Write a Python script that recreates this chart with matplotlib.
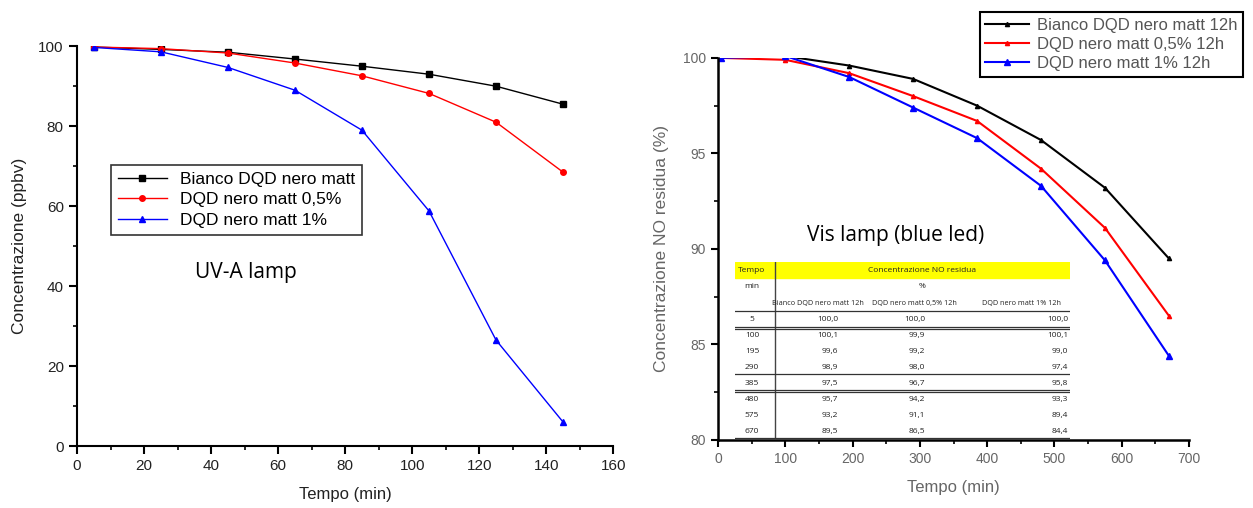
import matplotlib
matplotlib.use("Agg")
import matplotlib.pyplot as plt
import numpy as np

# UV-A lamp data
uv_time = [5, 25, 45, 65, 85, 105, 125, 145]
uv_bianco = [99.8, 99.2, 98.5, 96.8, 95.0, 93.0, 90.0, 85.5]
uv_05 = [99.8, 99.4, 98.3, 95.8, 92.6, 88.2, 81.0, 68.5]
uv_1 = [99.7, 98.6, 94.7, 89.0, 79.0, 58.8, 26.5, 6.0]
uv_labels = ["Bianco DQD nero matt", "DQD nero matt 0,5%", "DQD nero matt 1%"]

# Vis lamp data (from the inset table)
vis_time = [5, 100, 195, 290, 385, 480, 575, 670]
vis_bianco = [100.0, 100.1, 99.6, 98.9, 97.5, 95.7, 93.2, 89.5]
vis_05 = [100.0, 99.9, 99.2, 98.0, 96.7, 94.2, 91.1, 86.5]
vis_1 = [100.0, 100.1, 99.0, 97.4, 95.8, 93.3, 89.4, 84.4]
vis_labels = ["Bianco DQD nero matt 12h", "DQD nero matt 0,5% 12h", "DQD nero matt 1% 12h"]

tab_cols = ["Bianco DQD nero matt 12h", "DQD nero matt 0,5% 12h", "DQD nero matt 1% 12h"]

def fmt(v):
    return f"{v:.1f}".replace(".", ",")

fig = plt.figure(figsize=(12.53, 5.08), dpi=100)
plt.rcParams['font.family'] = ['Liberation Sans', 'DejaVu Sans']

# ---------- left panel ----------
ax1 = fig.add_axes([0.0615, 0.122, 0.428, 0.787])
ax1.plot(uv_time, uv_bianco, color="black", marker="s", ms=4, lw=1, label=uv_labels[0])
ax1.plot(uv_time, uv_05, color="red", marker="o", ms=4, lw=1, label=uv_labels[1])
ax1.plot(uv_time, uv_1, color="blue", marker="^", ms=5, lw=1, label=uv_labels[2])
ax1.set_xlim(0, 160)
ax1.set_ylim(0, 100)
ax1.set_xticks(np.arange(0, 161, 20))
ax1.set_xticks(np.arange(0, 161, 10), minor=True)
ax1.set_yticks(np.arange(0, 101, 20))
ax1.set_yticks(np.arange(0, 101, 10), minor=True)
for s in ["top", "right"]:
    ax1.spines[s].set_visible(False)
ax1.spines["left"].set_linewidth(1.5)
ax1.spines["bottom"].set_linewidth(1.5)
ax1.tick_params(direction="out", width=1.5, length=6, labelsize=11, labelcolor="#222222")
ax1.tick_params(which="minor", direction="out", width=1.2, length=3)
ax1.set_xlabel("Tempo (min)", fontsize=12, color="#222222", labelpad=10)
ax1.set_ylabel("Concentrazione (ppbv)", fontsize=12.5, color="#222222", labelpad=8)
leg1 = ax1.legend(loc="upper left", bbox_to_anchor=(0.047, 0.725), fontsize=12.5,
                  fancybox=False, edgecolor="#333333", framealpha=1,
                  handlelength=2.8, labelspacing=0.3, borderpad=0.4)
leg1.get_frame().set_linewidth(1.2)
ax1.text(0.22, 0.42, "UV-A lamp", transform=ax1.transAxes, fontsize=15,
         family=["Open Sans", "DejaVu Sans"])

# ---------- right panel ----------
ax2 = fig.add_axes([0.573, 0.134, 0.376, 0.752])
ax2.plot(vis_time, vis_bianco, color="black", marker="^", ms=3, lw=1.5, label=vis_labels[0])
ax2.plot(vis_time, vis_05, color="red", marker="^", ms=3, lw=1.5, label=vis_labels[1])
ax2.plot(vis_time, vis_1, color="blue", marker="^", ms=5, lw=1.5, label=vis_labels[2])
ax2.set_xlim(0, 700)
ax2.set_ylim(80, 100)
ax2.set_xticks(np.arange(0, 701, 100))
ax2.set_xticks(np.arange(0, 701, 50), minor=True)
ax2.set_yticks(np.arange(80, 101, 5))
ax2.set_yticks(np.arange(80, 101, 2.5), minor=True)
for s in ["top", "right"]:
    ax2.spines[s].set_visible(False)
ax2.spines["left"].set_linewidth(1.8)
ax2.spines["bottom"].set_linewidth(1.8)
ax2.tick_params(direction="out", width=1.5, length=5, labelsize=10, labelcolor="#666666")
ax2.tick_params(which="minor", direction="out", width=1.2, length=3)
ax2.set_xlabel("Tempo (min)", fontsize=12, color="#666666", labelpad=10)
ax2.set_ylabel("Concentrazione NO residua (%)", fontsize=12.5, color="#666666", labelpad=10)
leg2 = fig.legend(handles=ax2.get_lines(), loc="upper right", bbox_to_anchor=(0.999, 0.993),
                  fontsize=12, fancybox=False, edgecolor="black", framealpha=1,
                  handlelength=2.6, handletextpad=0.5, labelspacing=0.25, borderpad=0.35)
leg2.get_frame().set_linewidth(1.5)
for t in leg2.get_texts():
    t.set_color("#555555")
ax2.text(0.19, 0.52, "Vis lamp (blue led)", transform=ax2.transAxes, fontsize=15,
         family=["Open Sans", "DejaVu Sans"])

# ---------- inset table ----------
tx = fig.add_axes([735 / 1253, 1 - 440 / 508, (1070 - 735) / 1253, (440 - 262) / 508])
tx.set_xlim(735, 1070)
tx.set_ylim(440, 262)
tx.axis("off")
tfont = dict(fontsize=6, color="#222222", family=["Open Sans", "DejaVu Sans"])
tx.axhspan(262, 278, color="#ffff00", zorder=0)
tx.plot([775, 775], [262, 440], color="#444444", lw=1)
tx.text(752, 270, "Tempo", ha="center", va="center", **tfont)
tx.text(922, 270, "Concentrazione NO residua", ha="center", va="center", **tfont)
tx.text(752, 286, "min", ha="center", va="center", **tfont)
tx.text(922, 286, "%", ha="center", va="center", **tfont)
col_right = [838, 925, 1068]
col_center = [818, 914, 1022]
for c, name in zip(col_center, tab_cols):
    tx.text(c, 303, name, ha="center", va="center", fontsize=5.2, color="#222222",
            family=["Open Sans", "DejaVu Sans"])
row_y = [319, 335, 351, 367, 383, 399, 415, 431]
for i, (t, yy) in enumerate(zip(vis_time, row_y)):
    tx.text(752, yy, str(t), ha="center", va="center", **tfont)
    for c, series in zip(col_right, [vis_bianco, vis_05, vis_1]):
        tx.text(c, yy, fmt(series[i]), ha="right", va="center", **tfont)
for yy in [311, 327, 328.5, 374, 390, 391.5, 438]:
    tx.plot([735, 1070], [yy, yy], color="#333333", lw=0.9)

fig.savefig("out.png", dpi=100)
